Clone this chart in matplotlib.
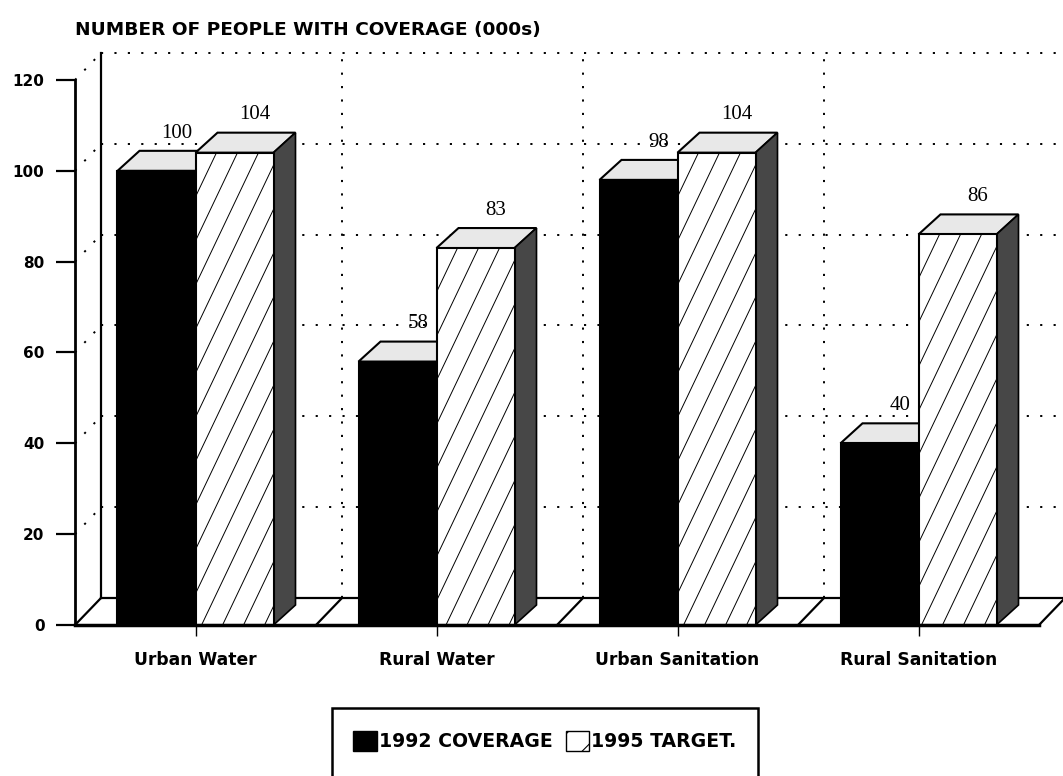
import matplotlib.pyplot as plt
from matplotlib.patches import Polygon, Patch, Rectangle
import numpy as np

# data
categories = ['Urban Water', 'Rural Water', 'Urban Sanitation', 'Rural Sanitation']
coverage_1992 = [100, 58, 98, 40]
target_1995 = [104, 83, 104, 86]
y_ticks = [0, 20, 40, 60, 80, 100, 120]
legend_labels = ['1992 COVERAGE', '1995 TARGET.']
title = 'NUMBER OF PEOPLE WITH COVERAGE (000s)'

# pixel scale of the axes (1 category = 241 px, 1 unit = 4.54 px)
PX_X, PX_Y = 241, 4.5417
# fake 3d depth (data units)
WALL_DX, WALL_DY = 26 / PX_X, 27 / PX_Y
BAR_DX, BAR_DY = 22 / PX_X, 20 / PX_Y
BAR_W = 78 / PX_X

plt.rcParams['hatch.linewidth'] = 0.8

fig = plt.figure(figsize=(10.63, 7.76), dpi=100)
ax = fig.add_axes([75 / 1063, 151 / 776, 988 / 1063, 585 / 776])
x = np.arange(len(categories))
ax.set_xlim(-0.5, -0.5 + 988 / PX_X)
ax.set_ylim(0, 585 / PX_Y)

dot = dict(color='black', lw=1.4, ls=(0, (1.1, 5.8)), clip_on=False, zorder=1)
solid = dict(color='black', lw=1.6, clip_on=False, zorder=1)

x0 = -0.5
x1 = len(categories) - 0.5
top = y_ticks[-1]

# back wall and side wall grid
for v in y_ticks[1:]:
    ax.plot([x0 + WALL_DX, ax.get_xlim()[1]], [v + WALL_DY] * 2, **dot)
    ax.plot([x0, x0 + WALL_DX], [v, v + WALL_DY], **dot)
for b in np.arange(x0 + 1, x1):
    ax.plot([b + WALL_DX] * 2, [WALL_DY, top + WALL_DY], **dot)
ax.plot([x0 + WALL_DX] * 2, [WALL_DY, top + WALL_DY], **solid)

# floor
ax.plot([x0 + WALL_DX, x1 + WALL_DX], [WALL_DY] * 2, **solid)
for b in np.arange(x0, x1 + 1):
    ax.plot([b, b + WALL_DX], [0, WALL_DY], **solid)


def hatch_lines(left, h, z):
    # steep diagonal hatch like the original, clipped to the bar face
    clip = Rectangle((left, 0), BAR_W, h, transform=ax.transData)
    run = h * PX_Y / 2.1 / PX_X
    for s in np.arange(left - run, left + BAR_W, 21 / PX_X):
        ln, = ax.plot([s, s + run], [0, h], color='black', lw=0.7, zorder=z)
        ln.set_clip_path(clip)


def box(left, h, face, hatched=False, z=3, side=True):
    right = left + BAR_W
    ax.bar(left, h, BAR_W, align='edge', color=face, edgecolor='black',
           lw=1.5, zorder=z + 0.5, clip_on=False)
    if hatched:
        hatch_lines(left, h, z + 0.6)
    top_face = [(left, h), (right, h), (right + BAR_DX, h + BAR_DY), (left + BAR_DX, h + BAR_DY)]
    ax.add_patch(Polygon(top_face, fc='#e8e8e8', ec='black', lw=1.5, zorder=z, clip_on=False))
    if side:
        side_face = [(right, 0), (right + BAR_DX, BAR_DY), (right + BAR_DX, h + BAR_DY), (right, h)]
        ax.add_patch(Polygon(side_face, fc='#474747', ec='black', lw=1.2, zorder=z, clip_on=False))
    ax.text(left + BAR_W / 2 + 0.085, h + BAR_DY + 1.8, str(h), ha='center', va='bottom',
            family='Liberation Serif', fontsize=15, zorder=6)


for i in x:
    box(i - BAR_W, coverage_1992[i], 'black', z=3, side=False)
    box(i, target_1995[i], 'white', hatched=True, z=4)

# axes styling
for s in ['top', 'right']:
    ax.spines[s].set_visible(False)
ax.spines['left'].set_bounds(0, top)
ax.spines['bottom'].set_bounds(x0, x1)
ax.spines['left'].set_linewidth(2)
ax.spines['bottom'].set_linewidth(2.5)
ax.spines['left'].set_zorder(7)
ax.spines['bottom'].set_zorder(7)

ax.set_yticks(y_ticks)
ax.set_yticklabels([str(v) for v in y_ticks], fontsize=11, fontweight='bold')
ax.tick_params(axis='y', length=14, width=1.6, pad=8)
ax.set_xticks(x)
ax.set_xticklabels(categories, fontsize=12.3, fontweight='bold')
ax.tick_params(axis='x', length=8, width=1, pad=11)

fig.text(75 / 1063, 1 - 30 / 776, title, fontsize=13.3, fontweight='bold', va='center')

# legend box (bottom edge runs off the page in the original)
fig.add_artist(Rectangle((332 / 1063, -10 / 776), 426 / 1063, 78 / 776,
                         transform=fig.transFigure, fill=False, lw=1.8, ec='black'))
handles = [Patch(fc='black', ec='black'), Patch(fc='white', ec='black', hatch='/')]
fig.legend(handles, legend_labels, loc='center', bbox_to_anchor=(545 / 1063, 35 / 776),
           ncol=2, frameon=False, handlelength=1.25, handleheight=1.3, handletextpad=0.1,
           columnspacing=0.7, prop=dict(weight='bold', size=13.6))

fig.savefig('out.png', dpi=100)
